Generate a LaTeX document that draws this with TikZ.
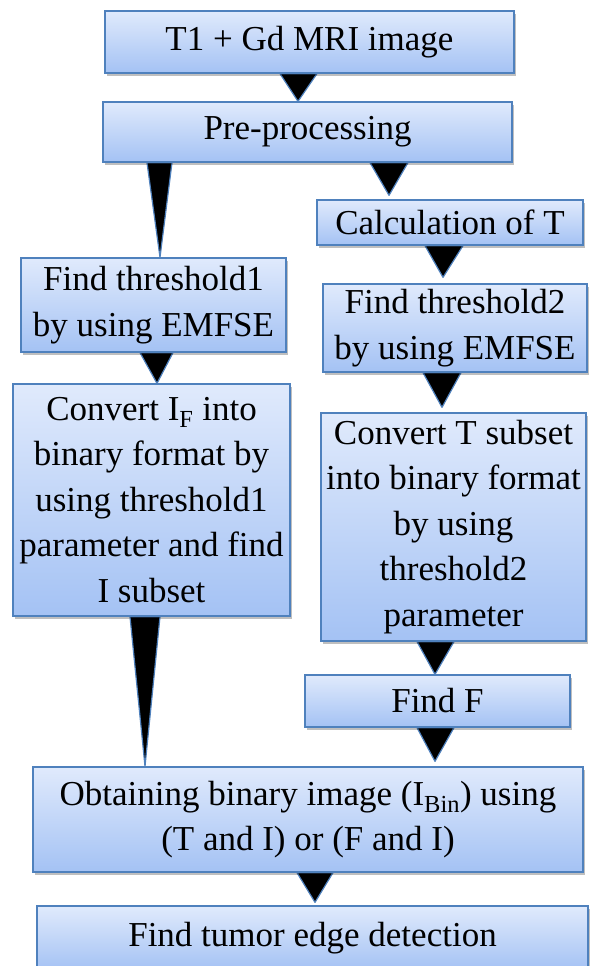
\documentclass[tikz,border=0pt]{standalone}
\usepackage{fontspec}
\setmainfont{Liberation Serif}
\usetikzlibrary{shadows,backgrounds}
\definecolor{bordercol}{HTML}{4F81BD}
\definecolor{topcol}{HTML}{E0EAFC}
\definecolor{botcol}{HTML}{A4C2F4}
\begin{document}
\begin{tikzpicture}[x=1pt,y=-1pt,
  box/.style={draw=bordercol, line width=1.3pt, top color=topcol, bottom color=botcol,
    drop shadow={shadow xshift=2pt, shadow yshift=-3pt, fill=black, opacity=0.25},
    inner sep=0pt, align=center, font=\fontsize{35}{45.5}\selectfont, anchor=center},
  tri/.style={fill=black, draw=bordercol, line width=1.2pt, line join=round}]
\useasboundingbox (0,0) rectangle (591,966);

\node[box, minimum width=409pt, minimum height=62pt] (top) at (309.5,42) {T1 + Gd MRI image};
\node[box, minimum width=409pt, minimum height=60pt] (pre) at (307.5,132) {Pre-processing};
\node[box, minimum width=266pt, minimum height=45pt] (calc) at (450,222.5) {Calculation of T};
\node[box, minimum width=265pt, minimum height=94pt] (th1) at (153.5,305) {Find threshold1\\by using EMFSE};
\node[box, minimum width=264pt, minimum height=88pt] (th2) at (455,328) {Find threshold2\\by using EMFSE};
\node[box, minimum width=277pt, minimum height=232pt] (cif) at (151.5,500) {Convert I\textsubscript{F} into\\binary format by\\using threshold1\\parameter and find\\I subset};
\node[box, minimum width=265pt, minimum height=228pt] (ct) at (453.5,527) {Convert T subset\\into binary format\\by using\\threshold2\\parameter};
\node[box, minimum width=265pt, minimum height=52pt] (ff) at (437.5,701) {Find F};
\node[box, minimum width=550pt, minimum height=105pt] (obt) at (308,819.5) {Obtaining binary image (I\textsubscript{Bin}) using\\(T and I) or (F and I)};
\node[box, minimum width=551pt, minimum height=64pt] (tum) at (312.5,938) {Find tumor edge detection};

\begin{pgfonlayer}{background}
\fill[white] (0,0) rectangle (591,966);
\draw[tri] ([xshift=-29.5pt]top.south) -- ([xshift=7.5pt]top.south) -- ([xshift=-9.5pt]pre.north) -- cycle;
\draw[tri] ([xshift=-160.5pt]pre.south) -- ([xshift=-135.5pt]pre.south) -- ([xshift=6.5pt]th1.north) -- cycle;
\draw[tri] ([xshift=62.5pt]pre.south) -- ([xshift=100.5pt]pre.south) -- ([xshift=-61pt,yshift=4pt]calc.north) -- cycle;
\draw[tri] ([xshift=-25pt]calc.south) -- ([xshift=13pt]calc.south) -- ([xshift=-12pt,yshift=6pt]th2.north) -- cycle;
\draw[tri] ([xshift=-13.5pt]th1.south) -- ([xshift=19.5pt]th1.south) -- ([xshift=5.5pt]cif.north) -- cycle;
\draw[tri] ([xshift=-32pt]th2.south) -- ([xshift=6pt]th2.south) -- ([xshift=-11.5pt,yshift=5pt]ct.north) -- cycle;
\draw[tri] ([xshift=-21.5pt]cif.south) -- ([xshift=8.5pt]cif.south) -- ([xshift=-163pt]obt.north) -- cycle;
\draw[tri] ([xshift=-36.5pt]ct.south) -- ([xshift=0.5pt]ct.south) -- ([xshift=-2.5pt]ff.north) -- cycle;
\draw[tri] ([xshift=-20.5pt]ff.south) -- ([xshift=16.5pt]ff.south) -- ([xshift=127pt,yshift=5pt]obt.north) -- cycle;
\draw[tri] ([xshift=-11pt]obt.south) -- ([xshift=25pt]obt.south) -- ([xshift=2.5pt,yshift=3pt]tum.north) -- cycle;
\end{pgfonlayer}
\end{tikzpicture}
\end{document}
